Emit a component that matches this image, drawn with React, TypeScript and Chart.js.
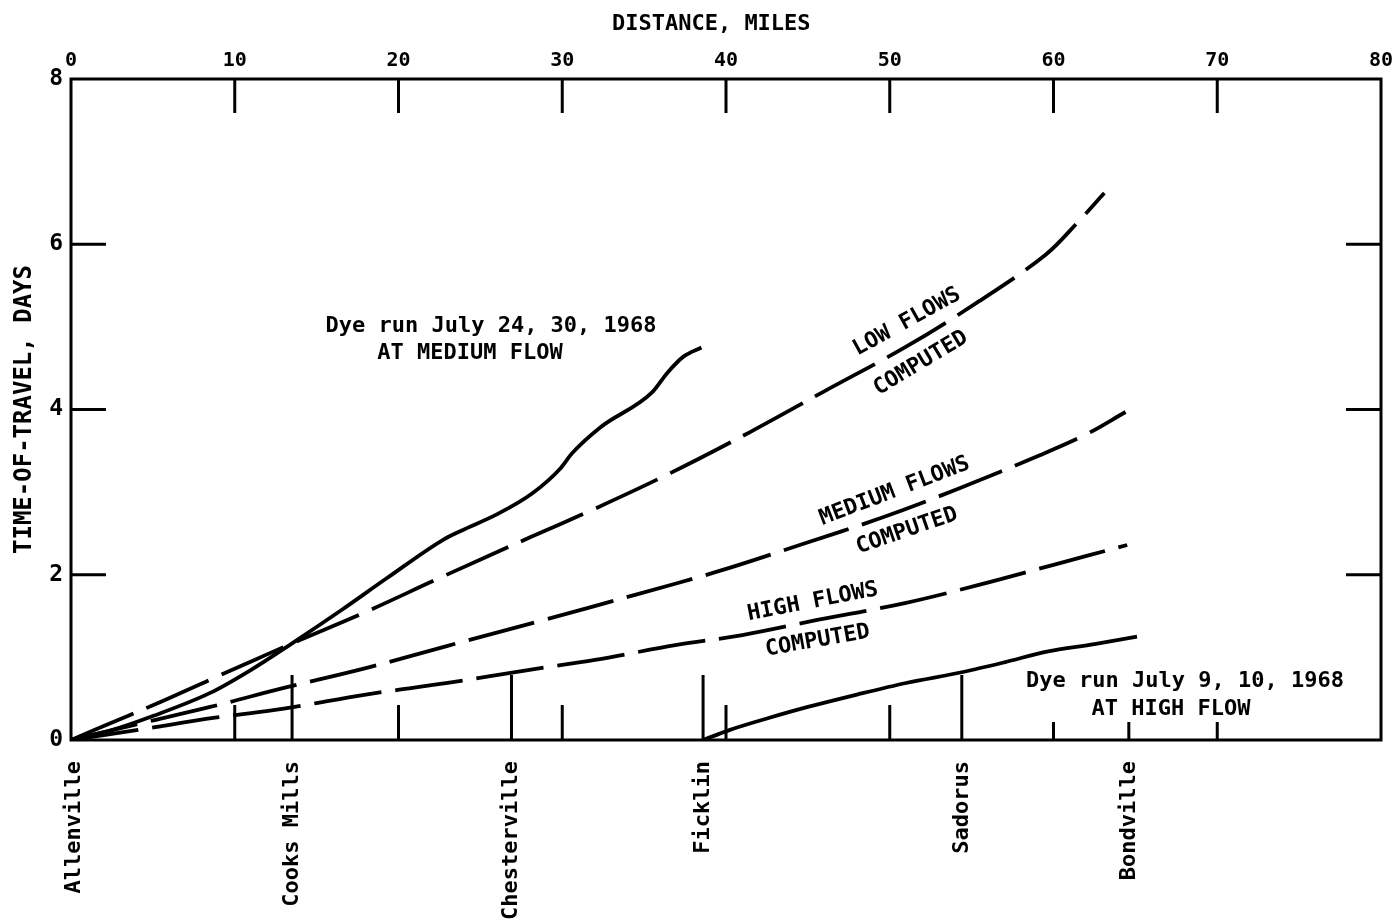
import { useEffect, useRef } from "react";
import { Chart, registerables } from "chart.js";

Chart.register(...registerables);

// Distance along the river (miles) and time of travel (days) for each curve
const LOW_MILES = [0, 2, 5, 8.5, 11, 13.5, 18, 22.5, 28, 32, 36.5, 41.5, 46, 51, 55.3, 59.5, 61.5, 63.1];
const LOW_DAYS = [0, 0.17, 0.42, 0.73, 0.95, 1.17, 1.55, 1.96, 2.45, 2.8, 3.22, 3.73, 4.22, 4.76, 5.29, 5.87, 6.27, 6.62];

const MEDIUM_MILES = [0, 4, 8.5, 13, 18, 23, 29, 34.5, 39.5, 44.5, 49.5, 54.3, 59.2, 62, 64.4];
const MEDIUM_DAYS = [0, 0.19, 0.4, 0.63, 0.87, 1.14, 1.46, 1.76, 2.04, 2.36, 2.69, 3.05, 3.45, 3.7, 3.97];

const HIGH_MILES = [0, 4, 8.8, 13, 18, 23, 28, 32, 37, 41, 45.5, 51, 55.5, 60, 64.5];
const HIGH_DAYS = [0, 0.12, 0.27, 0.38, 0.55, 0.69, 0.85, 0.97, 1.15, 1.27, 1.45, 1.66, 1.88, 2.12, 2.36];

const DYE_MEDIUM_MILES = [0, 2.5, 5, 8.5, 11, 13.5, 16.5, 19.3, 22.7, 23.8, 26, 28.2, 29.9, 30.6, 32.3, 35.5, 36.4, 37.4, 38.5];
const DYE_MEDIUM_DAYS = [0, 0.12, 0.29, 0.57, 0.85, 1.17, 1.57, 1.96, 2.42, 2.53, 2.73, 2.99, 3.29, 3.47, 3.78, 4.21, 4.44, 4.64, 4.75];

const DYE_HIGH_MILES = [38.6, 40.2, 42.5, 45, 48, 51, 54.4, 57, 59.6, 62.5, 65.1];
const DYE_HIGH_DAYS = [0, 0.12, 0.26, 0.4, 0.55, 0.69, 0.82, 0.94, 1.07, 1.16, 1.25];

// Gaging stations along the reach
const STATIONS = ["Allenville", "Cooks Mills", "Chesterville", "Ficklin", "Sadorus", "Bondville"];
const STATION_MILES = [0, 13.5, 26.9, 38.6, 54.4, 64.6];

// Axis ticks
const MILE_TICKS = [0, 10, 20, 30, 40, 50, 60, 70, 80];
const DAY_TICKS = [0, 2, 4, 6, 8];

const FONT = '"DejaVu Sans Mono", "Liberation Mono", monospace';
const WEIGHT = "bold";
const INK = "#000";

const toPoints = (xs: number[], ys: number[]) => xs.map((x, i) => ({ x, y: ys[i] }));

function drawText(
  ctx: CanvasRenderingContext2D,
  text: string,
  px: number,
  py: number,
  deg: number,
  size = 22
) {
  ctx.save();
  ctx.translate(px, py);
  ctx.rotate((deg * Math.PI) / 180);
  ctx.font = `${WEIGHT} ${size}px ${FONT}`;
  ctx.fillStyle = INK;
  ctx.textAlign = "center";
  ctx.textBaseline = "middle";
  ctx.fillText(text, 0, 0);
  ctx.restore();
}

// Frame, inward tick marks, station markers and the written notes
const framePlugin = {
  id: "frame",
  afterDatasetsDraw(chart: any) {
    const { ctx, chartArea: a } = chart;
    const xs = chart.scales.x;
    const ys = chart.scales.y;
    ctx.save();
    ctx.strokeStyle = INK;
    ctx.lineWidth = 3;
    ctx.lineCap = "butt";
    ctx.strokeRect(a.left, a.top, a.right - a.left, a.bottom - a.top);

    ctx.beginPath();
    // distance ticks hanging from the top edge
    MILE_TICKS.slice(1, -1).forEach((m) => {
      const px = xs.getPixelForValue(m);
      ctx.moveTo(px, a.top);
      ctx.lineTo(px, a.top + 34);
    });
    // day ticks on both sides
    DAY_TICKS.slice(1, -1).forEach((d) => {
      const py = ys.getPixelForValue(d);
      ctx.moveTo(a.left, py);
      ctx.lineTo(a.left + 35, py);
      ctx.moveTo(a.right - 35, py);
      ctx.lineTo(a.right, py);
    });
    // short mile marks and longer station marks standing on the bottom edge
    MILE_TICKS.slice(1, -1).forEach((m) => {
      const px = xs.getPixelForValue(m);
      ctx.moveTo(px, a.bottom);
      ctx.lineTo(px, a.bottom - 35);
    });
    STATION_MILES.slice(1).forEach((m) => {
      const px = xs.getPixelForValue(m);
      ctx.moveTo(px, a.bottom);
      ctx.lineTo(px, a.bottom - 65);
    });
    ctx.stroke();

    // station names, reading upward below the axis
    ctx.font = `${WEIGHT} 22px ${FONT}`;
    ctx.fillStyle = INK;
    STATIONS.forEach((name, i) => {
      ctx.save();
      ctx.translate(xs.getPixelForValue(STATION_MILES[i]) + (i === 0 ? 3 : 0), a.bottom + 21);
      ctx.rotate(-Math.PI / 2);
      ctx.textAlign = "right";
      ctx.textBaseline = "middle";
      ctx.fillText(name, 0, 0);
      ctx.restore();
    });

    // axis title above the distance scale
    drawText(ctx, "DISTANCE, MILES", xs.getPixelForValue(39.1), a.top - 55, 0, 22);

    // dye-run notes
    drawText(ctx, "Dye run July 24, 30, 1968", xs.getPixelForValue(25.65), ys.getPixelForValue(5.01), 0);
    drawText(ctx, "AT MEDIUM FLOW", xs.getPixelForValue(24.37), ys.getPixelForValue(4.68), 0);

    const n1x = xs.getPixelForValue(68.03);
    const n1y = ys.getPixelForValue(0.714);
    const n2x = xs.getPixelForValue(67.18);
    const n2y = ys.getPixelForValue(0.375);
    ctx.font = `${WEIGHT} 22px ${FONT}`;
    const w1 = ctx.measureText("Dye run July 9, 10, 1968").width;
    const w2 = ctx.measureText("AT HIGH FLOW").width;
    const left = Math.min(n1x - w1 / 2, n2x - w2 / 2) - 5;
    const right = Math.max(n1x + w1 / 2, n2x + w2 / 2) + 5;
    ctx.fillStyle = "#fff";
    ctx.fillRect(left, n1y - 14, right - left, n2y + 13 - (n1y - 14));
    drawText(ctx, "Dye run July 9, 10, 1968", n1x, n1y, 0);
    drawText(ctx, "AT HIGH FLOW", n2x, n2y, 0);

    // curve labels set along the computed lines
    drawText(ctx, "LOW FLOWS", xs.getPixelForValue(51.05), ys.getPixelForValue(5.06), -29);
    drawText(ctx, "COMPUTED", xs.getPixelForValue(51.9), ys.getPixelForValue(4.56), -31);
    drawText(ctx, "MEDIUM FLOWS", xs.getPixelForValue(50.3), ys.getPixelForValue(3.01), -21);
    drawText(ctx, "COMPUTED", xs.getPixelForValue(51.05), ys.getPixelForValue(2.53), -19);
    drawText(ctx, "HIGH FLOWS", xs.getPixelForValue(45.3), ys.getPixelForValue(1.67), -11);
    drawText(ctx, "COMPUTED", xs.getPixelForValue(45.6), ys.getPixelForValue(1.2), -10);

    ctx.restore();
  },
};

export default function App() {
  const canvasRef = useRef<HTMLCanvasElement | null>(null);

  useEffect(() => {
    const canvas = canvasRef.current;
    if (!canvas) return;

    const dashed = {
      borderColor: INK,
      borderWidth: 3.8,
      borderDash: [68, 14],
      pointRadius: 0,
      fill: false,
      tension: 0.35,
    };
    const solid = {
      borderColor: INK,
      borderWidth: 3.8,
      pointRadius: 0,
      fill: false,
      cubicInterpolationMode: "monotone" as const,
    };

    const chart = new Chart(canvas, {
      type: "line",
      data: {
        datasets: [
          { label: "Low flows, computed", data: toPoints(LOW_MILES, LOW_DAYS), ...dashed },
          { label: "Medium flows, computed", data: toPoints(MEDIUM_MILES, MEDIUM_DAYS), ...dashed },
          { label: "High flows, computed", data: toPoints(HIGH_MILES, HIGH_DAYS), ...dashed },
          { label: "Dye run July 24, 30, 1968", data: toPoints(DYE_MEDIUM_MILES, DYE_MEDIUM_DAYS), ...solid },
          { label: "Dye run July 9, 10, 1968", data: toPoints(DYE_HIGH_MILES, DYE_HIGH_DAYS), ...solid },
        ],
      },
      options: {
        animation: false,
        responsive: false,
        devicePixelRatio: 1,
        layout: { padding: { top: 0, left: 0, right: 13, bottom: 181 } },
        plugins: {
          legend: { display: false },
          tooltip: { enabled: false },
        },
        scales: {
          x: {
            type: "linear",
            position: "top",
            min: 0,
            max: 80,
            afterBuildTicks: (s: any) => {
              s.ticks = MILE_TICKS.map((value) => ({ value }));
            },
            afterFit: (s: any) => {
              s.height = 79;
              s.paddingLeft = 0;
              s.paddingRight = 0;
            },
            ticks: {
              padding: 6,
              maxRotation: 0,
              autoSkip: false,
              color: INK,
              font: { family: FONT, size: 20, weight: WEIGHT },
            },
            grid: { drawOnChartArea: false, drawTicks: false },
            border: { display: false },
          },
          y: {
            type: "linear",
            position: "left",
            min: 0,
            max: 8,
            afterBuildTicks: (s: any) => {
              s.ticks = DAY_TICKS.map((value) => ({ value }));
            },
            afterFit: (s: any) => {
              s.width = 71;
              s.paddingTop = 0;
              s.paddingBottom = 0;
            },
            ticks: {
              padding: 8,
              autoSkip: false,
              color: INK,
              font: { family: FONT, size: 23, weight: WEIGHT },
            },
            grid: { drawOnChartArea: false, drawTicks: false },
            border: { display: false },
            title: {
              display: true,
              text: "TIME-OF-TRAVEL, DAYS",
              color: INK,
              font: { family: FONT, size: 24, weight: WEIGHT },
              padding: { top: 10, bottom: 0 },
            },
          },
        },
      },
      plugins: [framePlugin],
    });

    return () => chart.destroy();
  }, []);

  return (
    <div
      style={{
        position: "absolute",
        left: 0,
        top: 0,
        width: 1394,
        height: 921,
        background: "#fff",
      }}
    >
      <canvas ref={canvasRef} width={1394} height={921} style={{ display: "block" }} />
    </div>
  );
}
